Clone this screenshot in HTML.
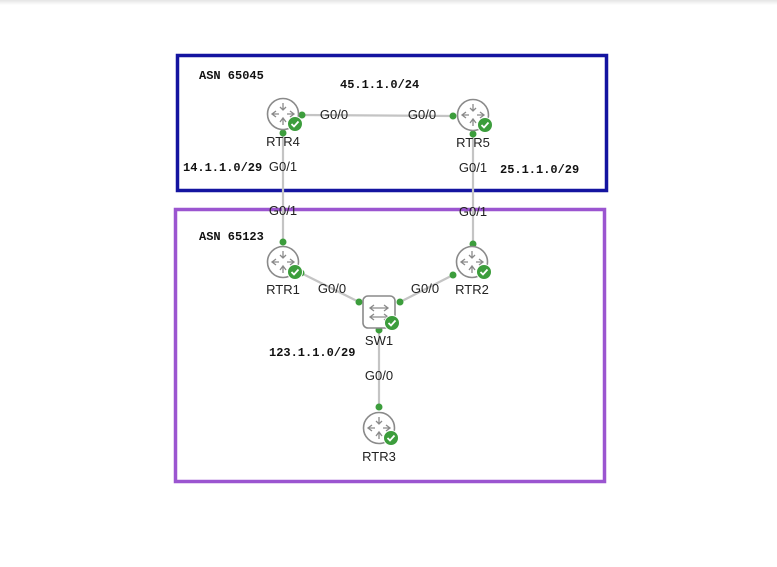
<!DOCTYPE html>
<html><head><meta charset="utf-8"><style>
html,body{margin:0;padding:0;background:#fff;width:777px;height:567px;overflow:hidden}
svg{display:block}
.l{font-family:"Liberation Sans",sans-serif;font-size:13px;fill:#222}
.m{font-family:"Liberation Mono",monospace;font-size:12px;font-weight:bold;fill:#111}
</style></head><body>
<svg width="777" height="567" viewBox="0 0 777 567">
<defs>
<linearGradient id="sh" x1="0" y1="0" x2="0" y2="1"><stop offset="0" stop-color="#e4e4e4"/><stop offset="1" stop-color="#fff"/></linearGradient>
<g id="rtr"><circle r="15.5" fill="#fff" stroke="#8a8a8a" stroke-width="1.6"/>
<g stroke="#8a8a8a" stroke-width="1.3" fill="none">
<path d="M0,-11 V-4 M-3,-7 L0,-4 L3,-7"/>
<path d="M0,11 V4 M-3,8 L0,4 L3,8"/>
<path d="M-11,0 H-4 M-7,-3 L-11,0 L-7,3"/>
<path d="M11,0 H4 M7,-3 L11,0 L7,3"/></g>
<circle cx="12" cy="10" r="7.5" fill="#3c9d3c" stroke="#fff" stroke-width="1"/>
<path d="M8.5,10 L11,12.5 L15.5,7.5" stroke="#fff" stroke-width="1.8" fill="none"/></g>
</defs>
<rect x="0" y="0" width="777" height="5" fill="url(#sh)"/>
<rect x="177.5" y="55.5" width="429" height="135" fill="none" stroke="#1414a0" stroke-width="3.5"/>
<rect x="175.5" y="209.5" width="429" height="272" fill="none" stroke="#9b55d0" stroke-width="3.5"/>
<g stroke="#c4c4c4" stroke-width="2.2" fill="none">
<line x1="302" y1="115" x2="453" y2="116"/>
<line x1="283" y1="133" x2="283" y2="242"/>
<line x1="473" y1="134" x2="473" y2="244"/>
<line x1="301" y1="273" x2="359" y2="302"/>
<line x1="455" y1="274" x2="400" y2="302"/>
<line x1="379" y1="330" x2="379" y2="407"/>
</g>
<g fill="#3c9d3c">
<circle cx="302" cy="115" r="3.5"/><circle cx="283" cy="133" r="3.5"/>
<circle cx="453" cy="116" r="3.5"/><circle cx="473" cy="134" r="3.5"/>
<circle cx="283" cy="242" r="3.5"/><circle cx="473" cy="244" r="3.5"/>
<circle cx="301" cy="273" r="3.5"/><circle cx="453" cy="275" r="3.5"/>
<circle cx="359" cy="302" r="3.5"/><circle cx="400" cy="302" r="3.5"/>
<circle cx="379" cy="330" r="3.5"/><circle cx="379" cy="407" r="3.5"/>
</g>
<use href="#rtr" x="283" y="114"/>
<use href="#rtr" x="473" y="115"/>
<use href="#rtr" x="283" y="262"/>
<use href="#rtr" x="472" y="262"/>
<use href="#rtr" x="379" y="428"/>
<g transform="translate(379,312)">
<rect x="-16" y="-16" width="32" height="32" rx="5" fill="#fff" stroke="#8a8a8a" stroke-width="1.6"/>
<g stroke="#8a8a8a" stroke-width="1.3" fill="none">
<path d="M-9,-4 H9 M5,-7 L9,-4 L5,-1 M-5,-7 L-9,-4 L-5,-1"/>
<path d="M-9,5 H9 M5,2 L9,5 L5,8 M-5,2 L-9,5 L-5,8"/></g>
<circle cx="13" cy="11" r="7.5" fill="#3c9d3c" stroke="#fff" stroke-width="1"/>
<path d="M9.5,11 L12,13.5 L16.5,8.5" stroke="#fff" stroke-width="1.8" fill="none"/>
</g>
<g class="l" text-anchor="middle">
<text x="283" y="146">RTR4</text>
<text x="473" y="147">RTR5</text>
<text x="283" y="294">RTR1</text>
<text x="472" y="294">RTR2</text>
<text x="379" y="345">SW1</text>
<text x="379" y="461">RTR3</text>
<text x="334" y="119">G0/0</text>
<text x="422" y="119">G0/0</text>
<text x="283" y="171">G0/1</text>
<text x="283" y="215">G0/1</text>
<text x="473" y="172">G0/1</text>
<text x="473" y="216">G0/1</text>
<text x="332" y="293">G0/0</text>
<text x="425" y="293">G0/0</text>
<text x="379" y="380">G0/0</text>
</g>
<g class="m">
<text x="199" y="79">ASN 65045</text>
<text x="340" y="88">45.1.1.0/24</text>
<text x="183" y="171">14.1.1.0/29</text>
<text x="500" y="173">25.1.1.0/29</text>
<text x="199" y="240">ASN 65123</text>
<text x="269" y="356">123.1.1.0/29</text>
</g>
</svg>
</body></html>
